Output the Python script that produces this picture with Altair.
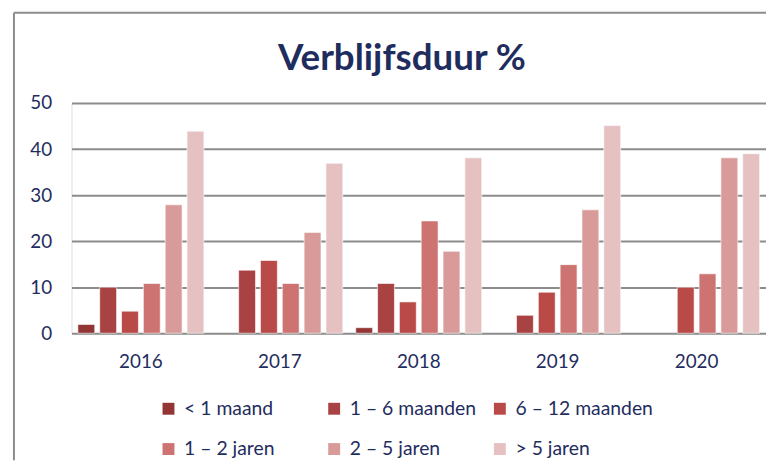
import altair as alt
import pandas as pd

years = ["2016", "2017", "2018", "2019", "2020"]
categories = ["< 1 maand", "1 – 6 maanden", "6 – 12 maanden", "1 – 2 jaren", "2 – 5 jaren", "> 5 jaren"]
colors = ["#933535", "#a94343", "#b94a48", "#cd7372", "#d99a9a", "#e5c1c2"]
title_text = ["Verblijfsduur %"]

v_lt1m = [1.9, 0, 1.2, 0, 0]
v_1_6m = [10.0, 13.7, 10.8, 3.9, 0]
v_6_12m = [4.8, 15.8, 6.8, 8.9, 10.0]
v_1_2j = [10.8, 10.8, 24.4, 14.9, 12.9]
v_2_5j = [27.9, 21.9, 17.8, 26.8, 38.1]
v_gt5j = [43.9, 36.9, 38.1, 45.1, 39.0]

series = [v_lt1m, v_1_6m, v_6_12m, v_1_2j, v_2_5j, v_gt5j]
rows = []
for cat, vals in zip(categories, series):
    for y, v in zip(years, vals):
        rows.append({"jaar": y, "duur": cat, "pct": v})
df = pd.DataFrame(rows)

NAVY = "#1f2d5e"
FONT = "Lato"

bars = alt.Chart(df).transform_filter("datum.pct > 0").mark_bar(
    stroke="white", strokeWidth=1, strokeOpacity=0.6
).encode(
    x=alt.X("jaar:N", sort=years,
            scale=alt.Scale(paddingInner=0.093, paddingOuter=0.046),
            axis=alt.Axis(title=None, labelAngle=0, ticks=False, domain=False,
                          labelFont=FONT, labelFontSize=19, labelColor=NAVY,
                          labelPadding=20)),
    xOffset=alt.XOffset("duur:N", sort=categories,
                        scale=alt.Scale(domain=categories, paddingInner=0.227, paddingOuter=0)),
    y=alt.Y("pct:Q", scale=alt.Scale(domain=[0, 50], nice=False),
            axis=alt.Axis(title=None, values=[0, 10, 20, 30, 40, 50], ticks=False,
                          domain=False, gridColor="#8c8c8c", gridWidth=2,
                          labelFont=FONT, labelFontSize=19, labelColor=NAVY,
                          labelPadding=20)),
    color=alt.Color("duur:N", sort=categories,
                    scale=alt.Scale(domain=categories, range=colors),
                    legend=alt.Legend(title=None, orient="none", legendX=88, legendY=298,
                                      direction="horizontal",
                                      columns=3, gridAlign="all", columnPadding=2,
                                      rowPadding=20, symbolType="square", symbolSize=144,
                                      symbolStrokeWidth=0, labelFont=FONT,
                                      labelFontSize=19.5, labelColor=NAVY, labelOffset=6,
                                      padding=0)),
)

frame = pd.DataFrame({"k": [0]})
left_border = alt.Chart(frame).mark_rule(color="#8c8c8c", strokeWidth=2).encode(
    x=alt.value(-58), y=alt.value(-91), y2=alt.value(360)
)
top_border = alt.Chart(frame).mark_rule(color="#8c8c8c", strokeWidth=2).encode(
    x=alt.value(-58), x2=alt.value(702), y=alt.value(-91)
)
title = alt.Chart(pd.DataFrame({"t": title_text})).mark_text(
    font=FONT, fontSize=37, fontWeight="bold", color=NAVY,
    align="center", baseline="alphabetic"
).encode(text="t:N", x=alt.value(333), y=alt.value(-33))

chart = alt.layer(bars, left_border, top_border, title).properties(
    width=700, height=232,
    autosize=alt.AutoSizeParams(type="none"),
    padding={"left": 64, "top": 94, "right": 0, "bottom": 128},
).configure_view(stroke=None).configure(background="white")

chart.save("out.html", embed_options={"renderer": "svg", "actions": False})
